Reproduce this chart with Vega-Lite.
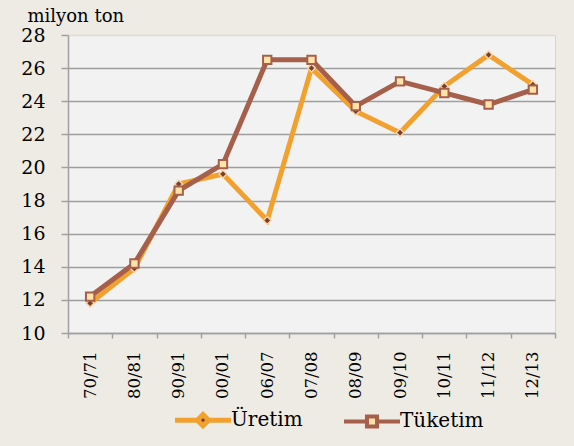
{
  "$schema": "https://vega.github.io/schema/vega-lite/v6.json",
  "width": 487,
  "height": 298,
  "autosize": "none",
  "padding": {"left": 68, "top": 35, "right": 19, "bottom": 113},
  "background": "#EEEBE5",
  "config": {
    "view": {"fill": "#F2F2F2", "stroke": "#DCD4CB"},
    "font": "DejaVu Serif"
  },
  "data": {
    "values": [
      {"period": "70/71", "series": "Üretim", "value": 11.8},
      {"period": "80/81", "series": "Üretim", "value": 13.9},
      {"period": "90/91", "series": "Üretim", "value": 19.0},
      {"period": "00/01", "series": "Üretim", "value": 19.6},
      {"period": "06/07", "series": "Üretim", "value": 16.8},
      {"period": "07/08", "series": "Üretim", "value": 26.0},
      {"period": "08/09", "series": "Üretim", "value": 23.4},
      {"period": "09/10", "series": "Üretim", "value": 22.1},
      {"period": "10/11", "series": "Üretim", "value": 24.9},
      {"period": "11/12", "series": "Üretim", "value": 26.8},
      {"period": "12/13", "series": "Üretim", "value": 25.0},
      {"period": "70/71", "series": "Tüketim", "value": 12.2},
      {"period": "80/81", "series": "Tüketim", "value": 14.2},
      {"period": "90/91", "series": "Tüketim", "value": 18.6},
      {"period": "00/01", "series": "Tüketim", "value": 20.2},
      {"period": "06/07", "series": "Tüketim", "value": 26.5},
      {"period": "07/08", "series": "Tüketim", "value": 26.5},
      {"period": "08/09", "series": "Tüketim", "value": 23.7},
      {"period": "09/10", "series": "Tüketim", "value": 25.2},
      {"period": "10/11", "series": "Tüketim", "value": 24.5},
      {"period": "11/12", "series": "Tüketim", "value": 23.8},
      {"period": "12/13", "series": "Tüketim", "value": 24.7}
    ]
  },
  "encoding": {
    "x": {
      "field": "period",
      "type": "nominal",
      "sort": null,
      "scale": {"type": "band", "paddingInner": 0, "paddingOuter": 0},
      "axis": {
        "title": null,
        "labelAngle": -90,
        "tickBand": "extent",
        "labelFont": "DejaVu Serif",
        "labelFontSize": 16.5,
        "labelColor": "#000000",
        "labelPadding": 13,
        "tickSize": 5,
        "tickColor": "#A0A0A0",
        "tickWidth": 1.5,
        "domainColor": "#A0A0A0",
        "domainWidth": 1.5,
        "grid": false
      }
    },
    "y": {
      "field": "value",
      "type": "quantitative",
      "scale": {"domain": [10, 28], "nice": false, "zero": false},
      "axis": {
        "values": [10, 12, 14, 16, 18, 20, 22, 24, 26, 28],
        "title": "milyon ton",
        "titleAngle": 0,
        "titleAlign": "left",
        "titleBaseline": "alphabetic",
        "titleX": -41,
        "titleY": -14,
        "titleFont": "DejaVu Serif",
        "titleFontSize": 18,
        "titleFontWeight": "normal",
        "titleColor": "#000000",
        "labelFont": "DejaVu Serif",
        "labelFontSize": 19,
        "labelColor": "#000000",
        "labelPadding": 16,
        "labelFlush": false,
        "labelOverlap": false,
        "tickSize": 7,
        "tickColor": "#A0A0A0",
        "tickWidth": 1.5,
        "domainColor": "#A0A0A0",
        "domainWidth": 1.5,
        "grid": true,
        "gridColor": {"condition": {"test": "datum.value === 28", "value": "#E0DAD2"}, "value": "#9E9E9E"},
        "gridWidth": 1.5
      }
    }
  },
  "layer": [
    {
      "transform": [{"filter": "datum.series === 'Üretim'"}],
      "mark": {"type": "line", "strokeWidth": 5},
      "encoding": {
        "color": {
          "field": "series",
          "type": "nominal",
          "scale": {"domain": ["Üretim", "Tüketim"], "range": ["#F2A12E", "#A65F4A"]},
          "legend": {
            "title": null,
            "orient": "none",
            "legendX": 125,
            "legendY": 375,
            "direction": "horizontal",
            "labelFont": "DejaVu Serif",
            "labelFontSize": 20,
            "labelColor": "#000000",
            "labelOffset": 18,
            "labelLimit": 300,
            "columnPadding": 33,
            "symbolSize": 3136,
            "encode": {
              "symbols": {
                "update": {
                  "shape": {"signal": "datum.value === 'Üretim' ? 'M-1,0H-0.2M0.2,0H1M0,-0.2L0.2,0L0,0.2L-0.2,0Z' : 'M-1,0H-0.18M0.18,0H1M-0.18,-0.18H0.18V0.18H-0.18Z'"},
                  "fill": {"signal": "datum.value === 'Üretim' ? '#7A3E2C' : '#FFE3A8'"},
                  "stroke": {"signal": "datum.value === 'Üretim' ? '#F2A12E' : '#A65F4A'"},
                  "strokeWidth": {"signal": "datum.value === 'Üretim' ? 5 : 4"},
                  "fillOpacity": {"value": 1},
                  "opacity": {"value": 1}
                }
              }
            }
          }
        }
      }
    },
    {
      "transform": [{"filter": "datum.series === 'Tüketim'"}],
      "mark": {"type": "line", "strokeWidth": 5},
      "encoding": {
        "color": {"field": "series", "type": "nominal"}
      }
    },
    {
      "transform": [{"filter": "datum.series === 'Üretim'"}],
      "mark": {"type": "point", "shape": "diamond", "filled": true, "size": 60, "fill": "#7A3E2C", "stroke": "#F6D3A8", "strokeWidth": 1.5, "opacity": 1}
    },
    {
      "transform": [{"filter": "datum.series === 'Tüketim'"}],
      "mark": {"type": "point", "shape": "square", "filled": true, "size": 70, "fill": "#FFE3A8", "stroke": "#A65F4A", "strokeWidth": 2, "opacity": 1}
    }
  ]
}
